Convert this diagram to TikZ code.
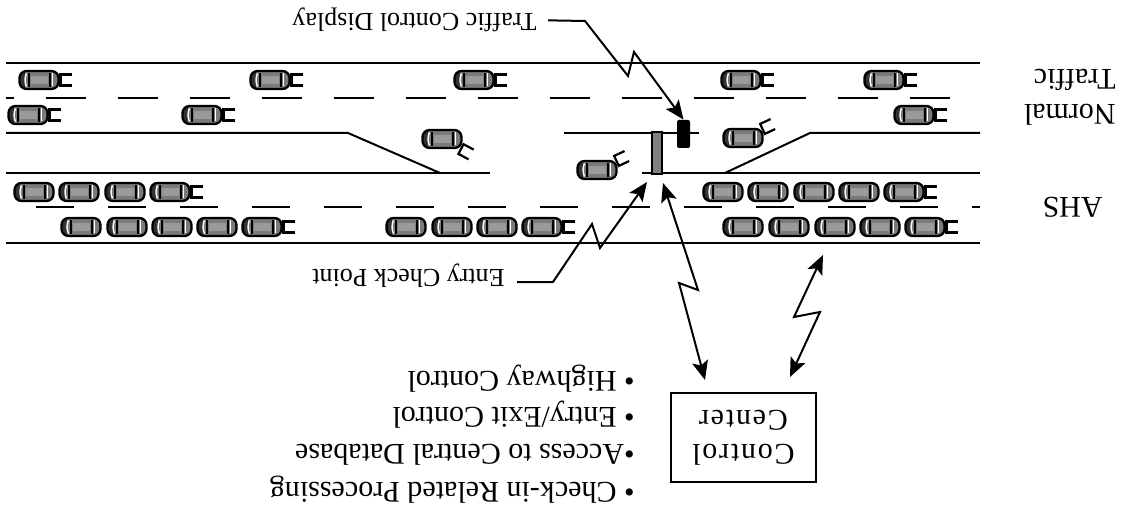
\documentclass[tikz,border=0pt]{standalone}
\usepackage{fontspec}
\setmainfont{Liberation Serif}
\usetikzlibrary{arrows.meta}

\definecolor{carbody}{HTML}{7A7A7A}
\definecolor{carroof}{HTML}{9A9A9A}
\definecolor{carcap}{HTML}{333333}
\definecolor{barfill}{HTML}{808080}

\tikzset{
  road/.style={line width=1pt},
  lanemark/.style={line width=0.9pt},
  link/.style={line width=1pt, line join=miter},
  tipped/.style={link, -{Stealth[length=9.5pt, width=8pt, inset=2pt]}},
  twotipped/.style={link, {Stealth[length=9.5pt, width=8pt, inset=2pt]}-{Stealth[length=9.5pt, width=8pt, inset=2pt]}},
  lbl/.style={rotate=180, inner sep=0, anchor=base west, font=\fontsize{13pt}{15pt}\selectfont},
  bigtext/.style={rotate=180, inner sep=0, anchor=base west, font=\fontsize{15pt}{18pt}\selectfont},
  car/.pic={
    \begin{scope}
      \clip[rounded corners=3.5pt] (-19.5,-9) rectangle (19.5,9);
      \fill[carbody] (-19.5,-9) rectangle (19.5,9);
      \fill[carcap] (-20,-10) rectangle (-14.5,10);
      \fill[carroof] (-8,-4) rectangle (9,4);
    \end{scope}
    \draw[line width=1.15pt, rounded corners=3.5pt] (-19.5,-9) rectangle (19.5,9);
    \draw[white, line width=0.7pt] (-12.5,-6.5) .. controls (-14.5,-2) and (-14.5,2) .. (-12.5,6.5);
    \draw[line width=0.7pt] (-10,-7) -- (-10,7);
    \draw[line width=0.7pt] (11,-7) -- (11,7);
    \draw[white, line width=0.7pt] (13.5,-6.5) -- (13.5,6.5);
  },
  lead/.pic={
    \pic {car};
    \draw[line width=1.1pt] (33,-5.5) -- (21.5,-5.5) -- (21.5,5.5) -- (33,5.5);
  }
}

\begin{document}
\begin{tikzpicture}[x=0.5pt, y=-0.5pt]
\useasboundingbox (0,0) rectangle (1131,512);

% ---- road edges ----
\draw[road] (6,63) -- (980,63);
\draw[road] (6,243) -- (980,243);
\draw[road] (6,173) -- (490,173);
\draw[road] (642,173) -- (980,173);
\draw[road] (6,133) -- (348,133) -- (440,173);
\draw[road] (564,133) -- (699,133);
\draw[road] (980,133) -- (810,133) -- (725,173);

% ---- lane markings ----
\draw[lanemark, dash pattern=on 20pt off 16pt, dash phase=16pt] (6,98) -- (980,98);
\draw[lanemark, dash pattern=on 19pt off 17pt, dash phase=21pt] (6,207) -- (980,207);

% ---- normal traffic ----
\foreach \cx in {39,270,474,741,884} \pic at (\cx,80) {lead};
\foreach \cx in {28,202,914} \pic at (\cx,115) {lead};

% ---- AHS platoons ----
\foreach \cx in {34,79,125} \pic at (\cx,192) {car};
\pic at (170,192) {lead};
\foreach \cx in {723,768,814,859} \pic at (\cx,192) {car};
\pic at (904,192) {lead};
\foreach \cx in {81,127,172,217} \pic at (\cx,227) {car};
\pic at (262,227) {lead};
\foreach \cx in {406,452,497} \pic at (\cx,227) {car};
\pic at (542,227) {lead};
\foreach \cx in {743,789,835,880} \pic at (\cx,227) {car};
\pic at (925,227) {lead};

% ---- cars changing lanes ----
\pic[rotate=-28] at (442,139) {lead};
\pic[rotate=25] at (597,170) {lead};
\pic[rotate=25] at (743,138) {lead};

% ---- check point and display ----
\node[draw, fill=barfill, line width=0.6pt, inner sep=0, minimum width=5pt, minimum height=21pt] (checkpt) at (657,153) {};
\node[fill=black, rounded corners=1pt, inner sep=0, minimum width=6.5pt, minimum height=14pt] (tcd) at (683.5,134) {};

% ---- control center ----
\node[draw, line width=1pt, rotate=180, inner sep=0, minimum width=72.5pt, minimum height=44.5pt, align=center,
      font=\fontsize{15pt}{17pt}\selectfont\addfontfeature{LetterSpace=6}] (cc) at (743.5,437.5) {Control\\Center};

\coordinate (cpLow) at (663,183);
\coordinate (cpCorner) at (647,182);
\coordinate (ccLeft) at (705,380);
\coordinate (ccRight) at (790,377);
\coordinate (roadLink) at (823,255);

% ---- labels ----
\node[lbl] (lblTCD) at (537,14) {Traffic Control Display};
\node[lbl] (lblECP) at (505,270) {Entry Check Point};

\node[bigtext] (normal) at (1116,105) {Normal};
\node[bigtext] (traffic) at (1116,70) {Traffic};
\node[bigtext] (ahs) at (1103,198) {AHS};

\node[bigtext] (it1) at (635,483) {\textbullet\ Check-in Related Processing};
\node[bigtext] (it2) at (635,445) {\textbullet Access to Central Database};
\node[bigtext] (it3) at (635,408) {\textbullet\ Entry/Exit Control};
\node[bigtext] (it4) at (635,372) {\textbullet\ Highway Control};

% ---- connectors ----
\draw[tipped] ([xshift=5.5pt]lblTCD.west) -- (585,21) -- (628,76) -- (634,52) -- (tcd.north);
\draw[tipped] ([xshift=6pt, yshift=-3pt]lblECP.west) -- (553,282) -- (592,224) -- (600,248) -- (cpCorner);
\draw[twotipped] (cpLow) -- (698,290) -- (679,283) -- (ccLeft);
\draw[twotipped] (roadLink) -- (794,317) -- (820,312) -- (ccRight);

\end{tikzpicture}
\end{document}
